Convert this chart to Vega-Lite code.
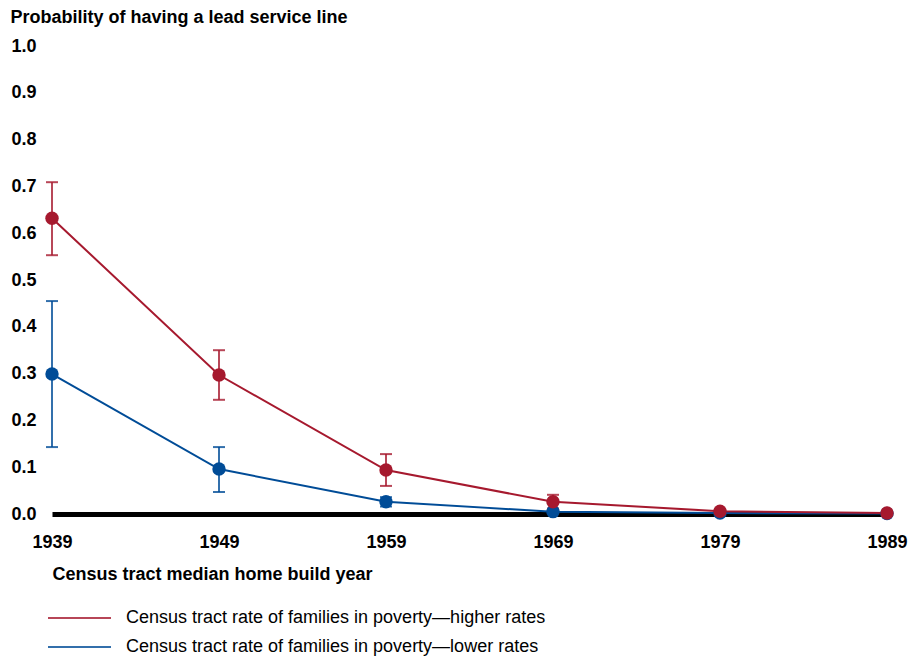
{
  "$schema": "https://vega.github.io/schema/vega-lite/v6.json",
  "width": 835,
  "height": 468,
  "autosize": "none",
  "padding": {"left": 52, "top": 46, "right": 31, "bottom": 144},
  "background": "white",
  "config": {
    "view": {"stroke": null},
    "font": "Liberation Sans"
  },
  "data": {
    "values": [
      {"year": 1939, "group": "Census tract rate of families in poverty—lower rates", "p": 0.299, "lo": 0.143, "hi": 0.455},
      {"year": 1949, "group": "Census tract rate of families in poverty—lower rates", "p": 0.096, "lo": 0.047, "hi": 0.143},
      {"year": 1959, "group": "Census tract rate of families in poverty—lower rates", "p": 0.026, "lo": 0.016, "hi": 0.036},
      {"year": 1969, "group": "Census tract rate of families in poverty—lower rates", "p": 0.005, "lo": null, "hi": null},
      {"year": 1979, "group": "Census tract rate of families in poverty—lower rates", "p": 0.002, "lo": null, "hi": null},
      {"year": 1989, "group": "Census tract rate of families in poverty—lower rates", "p": 0.001, "lo": null, "hi": null},
      {"year": 1939, "group": "Census tract rate of families in poverty—higher rates", "p": 0.632, "lo": 0.553, "hi": 0.709},
      {"year": 1949, "group": "Census tract rate of families in poverty—higher rates", "p": 0.297, "lo": 0.244, "hi": 0.350},
      {"year": 1959, "group": "Census tract rate of families in poverty—higher rates", "p": 0.094, "lo": 0.060, "hi": 0.128},
      {"year": 1969, "group": "Census tract rate of families in poverty—higher rates", "p": 0.026, "lo": 0.012, "hi": 0.041},
      {"year": 1979, "group": "Census tract rate of families in poverty—higher rates", "p": 0.006, "lo": null, "hi": null},
      {"year": 1989, "group": "Census tract rate of families in poverty—higher rates", "p": 0.002, "lo": null, "hi": null}
    ]
  },
  "encoding": {
    "x": {
      "field": "year", "type": "quantitative",
      "scale": {"domain": [1939, 1989], "nice": false, "zero": false},
      "axis": {
        "values": [1939, 1949, 1959, 1969, 1979, 1989],
        "format": "d",
        "title": "Census tract median home build year",
        "grid": false,
        "ticks": false,
        "domain": true,
        "domainColor": "black",
        "domainWidth": 5,
        "labelFont": "Liberation Sans",
        "labelFontSize": 18,
        "labelFontWeight": "bold",
        "labelColor": "black",
        "labelPadding": 19,
        "labelFlush": false,
        "titleFont": "Liberation Sans",
        "titleFontSize": 18,
        "titleFontWeight": "bold",
        "titleColor": "black",
        "titleAnchor": "start",
        "titleAlign": "left",
        "titleBaseline": "alphabetic",
        "titleX": 0,
        "titleY": 65
      }
    },
    "y": {
      "field": "p", "type": "quantitative",
      "scale": {"domain": [0, 1], "nice": false},
      "axis": {
        "values": [0, 0.1, 0.2, 0.3, 0.4, 0.5, 0.6, 0.7, 0.8, 0.9, 1.0],
        "format": ".1f",
        "title": "Probability of having a lead service line",
        "grid": false,
        "ticks": false,
        "domain": false,
        "labelFont": "Liberation Sans",
        "labelFontSize": 18,
        "labelFontWeight": "bold",
        "labelColor": "black",
        "labelAlign": "left",
        "labelPadding": 41,
        "titleFont": "Liberation Sans",
        "titleFontSize": 18,
        "titleFontWeight": "bold",
        "titleColor": "black",
        "titleAngle": 0,
        "titleAlign": "left",
        "titleBaseline": "alphabetic",
        "titleX": -42,
        "titleY": -24
      }
    },
    "color": {
      "field": "group", "type": "nominal",
      "scale": {
        "domain": ["Census tract rate of families in poverty—higher rates", "Census tract rate of families in poverty—lower rates"],
        "range": ["#A6192E", "#004C97"]
      },
      "legend": {
        "orient": "none",
        "legendX": 16,
        "legendY": 560.5,
        "title": null,
        "symbolType": "M-3,0H3",
        "symbolSize": 441,
        "symbolStrokeWidth": 2,
        "symbolFillColor": "transparent",
        "labelFont": "Liberation Sans",
        "labelFontSize": 18,
        "labelColor": "black",
        "labelOffset": 35,
        "labelLimit": 700,
        "rowPadding": 8
      }
    }
  },
  "layer": [
    {
      "mark": {"type": "line", "strokeWidth": 2}
    },
    {
      "transform": [{"filter": "datum.lo != null"}],
      "mark": {"type": "errorbar", "ticks": {"size": 12}, "opacity": 0.8, "thickness": 2},
      "encoding": {
        "y": {"field": "lo", "type": "quantitative"},
        "y2": {"field": "hi"}
      }
    },
    {
      "mark": {"type": "circle", "size": 180, "opacity": 1}
    }
  ]
}
